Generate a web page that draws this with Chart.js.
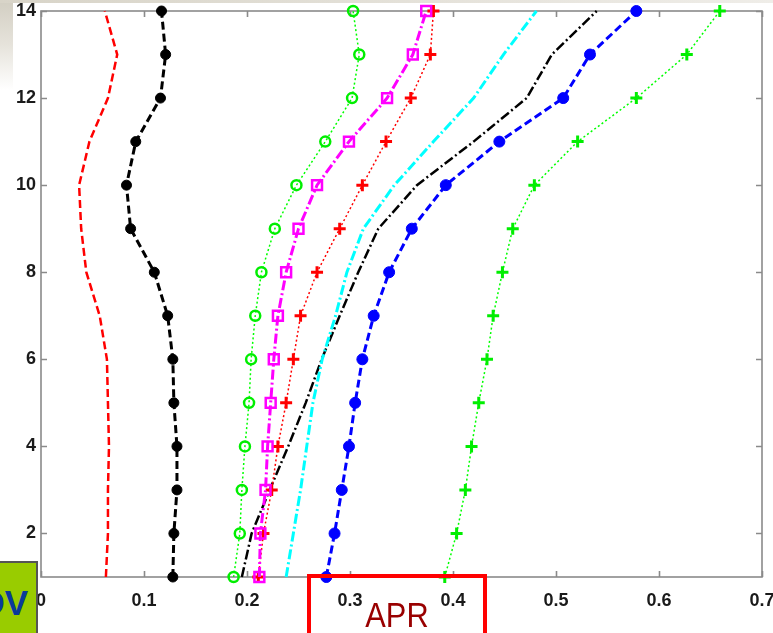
<!DOCTYPE html>
<html>
<head>
<meta charset="utf-8">
<script src="https://cdn.jsdelivr.net/npm/chart.js@4"></script>
<style>
  html, body { margin: 0; padding: 0; background: #fff; overflow: hidden; }
  #wrap { position: relative; width: 773px; height: 633px; }
  #bgLeft { position: absolute; left: 0; top: 0; width: 13px; height: 90px;
    background: linear-gradient(to bottom, #d2cec2, #e6e3db 50%, #ffffff); }
  #bgTop { position: absolute; left: 0; top: 0; width: 773px; height: 3px;
    background: linear-gradient(to right, #d8d4c8, #efede8); }
  canvas { position: absolute; left: 0; top: 0; }
  #dv { position: absolute; left: -60px; top: 561px; width: 98px; height: 80px;
    background: #99cc00; border: 2px solid #555; box-sizing: border-box;
    font-family: "Liberation Sans", Arial, sans-serif; font-weight: bold; font-size: 35px;
    color: #0a3a9a; text-align: right; padding-right: 8px; line-height: 1; padding-top: 22px; }
  #apr { position: absolute; left: 307px; top: 574px; width: 180px; height: 80px;
    border: 4px solid #ff0000; box-sizing: border-box; background: transparent;
    text-align: center; padding-top: 19px; line-height: 1; }
  #apr span { display: inline-block; transform: scaleX(0.88); transform-origin: center;
    font-family: "Liberation Sans", Arial, sans-serif; font-size: 35px; color: #990000; }
</style>
</head>
<body>
<div id="wrap">
  <div id="bgLeft"></div>
  <div id="bgTop"></div>
  <canvas id="c" width="773" height="633"></canvas>
  <div id="dv">DV</div>
  <div id="apr"><span>APR</span></div>
</div>
<script>
// ---- data ----
const levels = [1, 2, 3, 4, 5, 6, 7, 8, 9, 10, 11, 12, 13, 14];
const redDashed     = [0.063, 0.065, 0.065, 0.066, 0.065, 0.064, 0.057, 0.044, 0.039, 0.037, 0.047, 0.065, 0.074, 0.062];
const blackDots     = [0.128, 0.129, 0.132, 0.132, 0.129, 0.128, 0.123, 0.110, 0.087, 0.083, 0.092, 0.116, 0.121, 0.117];
const greenCircles  = [0.187, 0.193, 0.195, 0.198, 0.202, 0.204, 0.208, 0.214, 0.227, 0.248, 0.276, 0.302, 0.309, 0.303];
const magentaSquares= [0.212, 0.213, 0.218, 0.220, 0.223, 0.226, 0.230, 0.238, 0.250, 0.268, 0.299, 0.336, 0.361, 0.374];
const redPlus       = [0.211, 0.216, 0.224, 0.230, 0.238, 0.245, 0.252, 0.268, 0.290, 0.312, 0.335, 0.359, 0.378, 0.381];
const cyanDashDot   = [0.238, 0.245, 0.252, 0.258, 0.264, 0.273, 0.286, 0.297, 0.313, 0.343, 0.381, 0.420, 0.449, 0.481];
const blackDashDot  = [0.195, 0.2045, 0.222, 0.240, 0.257, 0.2725, 0.290, 0.308, 0.3275, 0.365, 0.420, 0.4715, 0.496, 0.5395];
const blueDots      = [0.277, 0.285, 0.292, 0.299, 0.305, 0.312, 0.323, 0.338, 0.360, 0.393, 0.445, 0.507, 0.533, 0.578];
const greenPlus     = [0.392, 0.4035, 0.412, 0.418, 0.425, 0.433, 0.439, 0.448, 0.458, 0.479, 0.521, 0.578, 0.627, 0.659];

const xTicks = [0, 0.1, 0.2, 0.3, 0.4, 0.5, 0.6, 0.7];
const yTicks = [2, 4, 6, 8, 10, 12, 14];

const pts = arr => arr.map((v, i) => ({ x: v, y: levels[i] }));

const DASH = [8, 4];
const DOT = [2, 2.5];
const DASHDOT = [10, 3, 2, 3];

const datasets = [
  { data: pts(redDashed), borderColor: '#ff0000', borderWidth: 2.5, borderDash: DASH, pointRadius: 0 },
  { data: pts(greenCircles), borderColor: '#00ff00', borderWidth: 1.5, borderDash: DOT,
    pointStyle: 'circle', pointRadius: 5, pointBorderWidth: 2.5, pointBorderColor: '#00ee00', pointBackgroundColor: 'rgba(0,0,0,0)' },
  { data: pts(magentaSquares), borderColor: '#ff00ff', borderWidth: 3, borderDash: DASHDOT,
    pointStyle: 'rect', pointRadius: 7, pointBorderWidth: 2.5, pointBorderColor: '#ff00ff', pointBackgroundColor: 'rgba(0,0,0,0)' },
  { data: pts(redPlus), borderColor: '#ff0000', borderWidth: 1.5, borderDash: DOT,
    pointStyle: 'cross', pointRadius: 6, pointBorderWidth: 3, pointBorderColor: '#ff0000' },
  { data: pts(cyanDashDot), borderColor: '#00ffff', borderWidth: 3, borderDash: DASHDOT, pointRadius: 0 },
  { data: pts(blackDashDot), borderColor: '#000000', borderWidth: 2.5, borderDash: DASHDOT, pointRadius: 0 },
  { data: pts(greenPlus), borderColor: '#00ff00', borderWidth: 1.5, borderDash: DOT,
    pointStyle: 'cross', pointRadius: 6, pointBorderWidth: 3, pointBorderColor: '#00ee00' },
  { data: pts(blackDots), borderColor: '#000000', borderWidth: 3, borderDash: DASH,
    pointStyle: 'circle', pointRadius: 5, pointBorderWidth: 1, pointBorderColor: '#000', pointBackgroundColor: '#000' },
  { data: pts(blueDots), borderColor: '#0000ff', borderWidth: 3, borderDash: DASH,
    pointStyle: 'circle', pointRadius: 5.5, pointBorderWidth: 1, pointBorderColor: '#0000ff', pointBackgroundColor: '#0000ff' }
];
datasets.forEach(d => { d.showLine = true; d.fill = false; d.tension = 0; d.borderCapStyle = 'butt'; d.clip = false; });

// Frame + inward ticks on all four sides, placed through the scales
const framePlugin = {
  id: 'frame',
  beforeDatasetsDraw(chart) {
    const { ctx, chartArea: a, scales: { x, y } } = chart;
    ctx.save();
    ctx.strokeStyle = '#8a8a8a';
    ctx.lineWidth = 1.6;
    ctx.setLineDash([]);
    ctx.strokeRect(a.left, a.top, a.right - a.left, a.bottom - a.top);
    const L = 6;
    ctx.beginPath();
    xTicks.forEach(v => {
      const px = Math.round(x.getPixelForValue(v)) + 0.5;
      ctx.moveTo(px, a.bottom); ctx.lineTo(px, a.bottom - L);
      ctx.moveTo(px, a.top); ctx.lineTo(px, a.top + L);
    });
    yTicks.forEach(v => {
      const py = Math.round(y.getPixelForValue(v)) + 0.5;
      ctx.moveTo(a.left, py); ctx.lineTo(a.left + L, py);
      ctx.moveTo(a.right, py); ctx.lineTo(a.right - L, py);
    });
    ctx.stroke();
    ctx.restore();
  }
};

const tickFont = { family: '"Liberation Sans", Arial, sans-serif', size: 18, weight: 'bold' };

new Chart(document.getElementById('c'), {
  type: 'scatter',
  data: { datasets },
  plugins: [framePlugin],
  options: {
    responsive: false,
    animation: false,
    layout: { padding: { top: 11, right: 11, left: 0, bottom: 0 } },
    plugins: { legend: { display: false }, tooltip: { enabled: false } },
    scales: {
      x: {
        type: 'linear', min: 0, max: 0.7,
        grid: { display: false, drawTicks: false },
        border: { display: false },
        afterBuildTicks: s => { s.ticks = xTicks.map(v => ({ value: v })); },
        ticks: {
          padding: 13, color: '#1a1a1a', font: tickFont,
          callback: v => (v === 0 ? '0' : v.toFixed(1))
        },
        afterFit: s => { s.height = 56; s.paddingLeft = 0; s.paddingRight = 0; }
      },
      y: {
        type: 'linear', min: 1, max: 14,
        grid: { display: false, drawTicks: false },
        border: { display: false },
        afterBuildTicks: s => { s.ticks = yTicks.map(v => ({ value: v })); },
        ticks: {
          padding: 5, color: '#1a1a1a', font: tickFont,
          callback: v => String(v)
        },
        afterFit: s => { s.width = 41; s.paddingTop = 0; s.paddingBottom = 0; }
      }
    }
  }
});
</script>
</body>
</html>
